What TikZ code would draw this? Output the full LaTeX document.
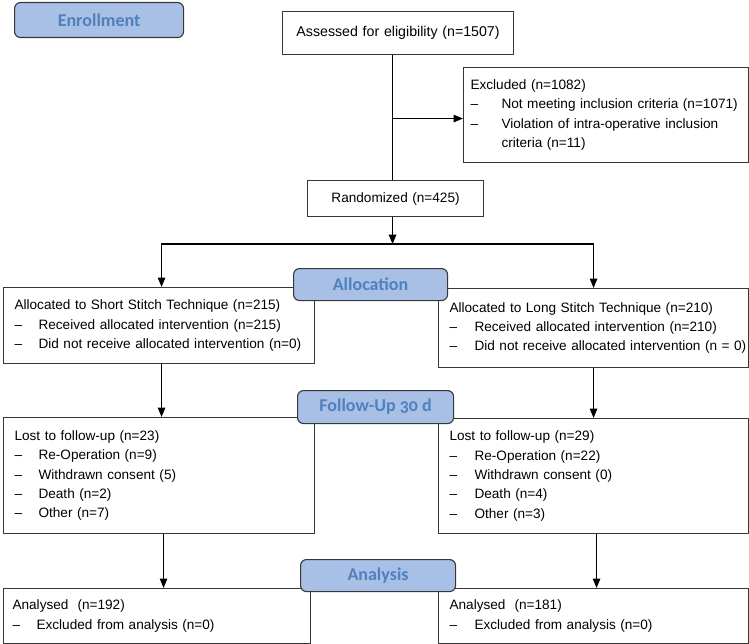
\documentclass[tikz,border=0pt]{standalone}
\usepackage{fontspec}
\setmainfont{Liberation Sans}
\newfontfamily\phasefont[Numbers=OldStyle]{Carlito}
\usetikzlibrary{arrows.meta, positioning, calc}

\definecolor{phasefill}{RGB}{168,191,230}
\definecolor{phasetext}{RGB}{79,129,189}
\definecolor{boxline}{RGB}{55,55,55}

\newcommand{\dashitem}[2][24pt]{\\\mbox{\makebox[#1][l]{--}#2}}

\tikzset{
    flowbox/.style={draw=boxline, line width=1.1pt, fill=white, anchor=north west,
        align=left, inner xsep=11pt, inner ysep=0pt,
        font=\fontsize{13.6}{19.4}\selectfont},
    phase/.style={draw=boxline, line width=1.1pt, fill=phasefill, rounded corners=6pt,
        anchor=north west, text=phasetext, inner sep=0pt,
        font=\phasefont\bfseries\fontsize{18}{20}\selectfont},
    arr/.style={-{Triangle[width=7.5pt,length=9.5pt]}, line width=1.4pt},
}

\begin{document}
\begin{tikzpicture}[x=1pt, y=-1pt]
    \useasboundingbox (0,0) rectangle (749,644);

    % Enrollment
    \node[flowbox, text width=209pt, align=center, minimum height=43pt, font=\fontsize{14.2}{19.4}\selectfont] (assess) at (282,11) {Assessed for eligibility (n=1507)};
    \node[flowbox, inner xsep=7pt, text width=271pt, minimum height=95pt] (excl) at (463,67)
        {Excluded (n=1082)\dashitem[31pt]{Not meeting inclusion criteria (n=1071)}\dashitem[31pt]{Violation of intra-operative inclusion}\\\hspace*{31pt}criteria (n=11)};
    \node[flowbox, text width=154pt, align=center, minimum height=36pt] (rand) at (307,180) {Randomized (n=425)};

    % Allocation
    \node[flowbox, text width=289pt, minimum height=76pt] (allocL) at (3,287)
        {Allocated to Short Stitch Technique (n=215)\dashitem{Received allocated intervention (n=215)}\dashitem{Did not receive allocated intervention (n=0)}};
    \node[flowbox, text width=288pt, minimum height=79pt] (allocR) at (438,288)
        {Allocated to Long Stitch Technique (n=210)\dashitem[25pt]{Received allocated intervention (n=210)}\dashitem[25pt]{Did not receive allocated intervention (n = 0)}};

    % Follow-up
    \node[flowbox, text width=289pt, minimum height=116pt] (fuL) at (3,417)
        {Lost to follow-up (n=23)\dashitem{Re-Operation (n=9)}\dashitem{Withdrawn consent (5)}\dashitem{Death (n=2)}\dashitem{Other (n=7)}};
    \node[flowbox, text width=288pt, minimum height=115pt] (fuR) at (438,418)
        {Lost to follow-up (n=29)\dashitem[25pt]{Re-Operation (n=22)}\dashitem[25pt]{Withdrawn consent (0)}\dashitem[25pt]{Death (n=4)}\dashitem[25pt]{Other (n=3)}};

    % Analysis
    \node[flowbox, inner xsep=9pt, text width=289pt, minimum height=55pt] (anL) at (3,588)
        {Analysed\ \ (n=192)\dashitem{Excluded from analysis (n=0)}};
    \node[flowbox, text width=288pt, minimum height=55pt] (anR) at (438,588)
        {Analysed\ \ (n=181)\dashitem[25pt]{Excluded from analysis (n=0)}};

    % Connectors
    \coordinate (spine) at ([xshift=-5.5pt]assess.south);
    \draw[line width=1.4pt] (spine) -- (spine |- rand.north);
    \draw[arr] (spine |- excl.west) ++(0,3.5) -- ([yshift=-3.5pt]excl.west);
    \coordinate (split) at ($(rand.south -| spine)+(0,27)$);
    \draw[arr] (rand.south -| spine) -- (split);
    \draw[arr] (split) -| ([xshift=2.5pt]allocL.north);
    \draw[arr] (split) -| (allocR.north);
    \draw[arr] ([xshift=2.5pt]allocL.south) -- ([xshift=2.5pt]fuL.north);
    \draw[arr] (allocR.south) -- (fuR.north);
    \draw[arr] ([xshift=4.5pt]fuL.south) -- ([xshift=4.5pt]fuL.south |- anL.north);
    \draw[arr] ([xshift=3pt]fuR.south) -- ([xshift=3pt]fuR.south |- anR.north);

    % Phase labels
    \node[phase, minimum width=169pt, minimum height=35pt] (enroll) at (14,2) {Enrollment};
    \node[phase, minimum width=154pt, minimum height=32pt] (lalloc) at (293,268) {Allocation};
    \node[phase, minimum width=156pt, minimum height=33pt] (lfollow) at (297,390) {Follow-Up 30 d};
    \node[phase, minimum width=155pt, minimum height=32pt] (lanalysis) at (300,559) {Analysis};
\end{tikzpicture}
\end{document}
